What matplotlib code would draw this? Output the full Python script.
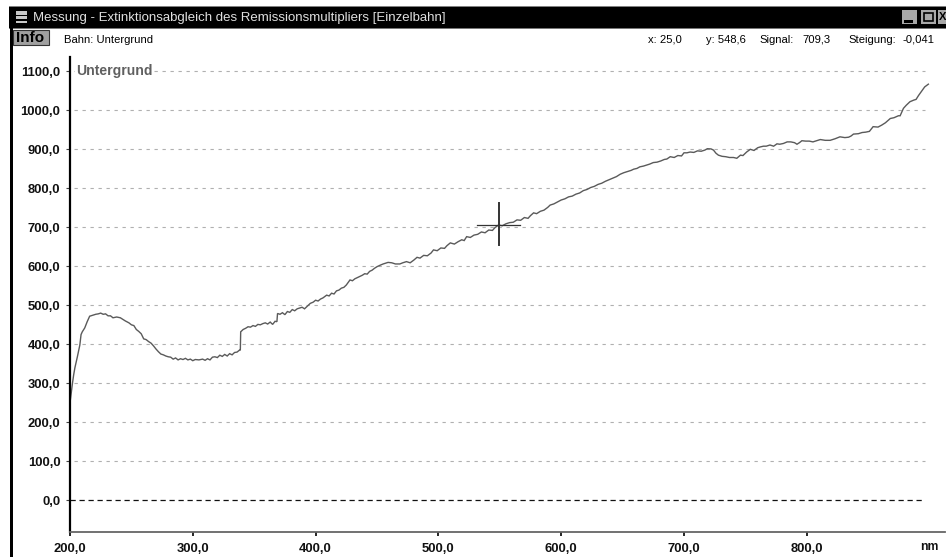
import matplotlib
matplotlib.use("Agg")
import matplotlib.pyplot as plt
from matplotlib.patches import Rectangle

plt.rcParams['font.family'] = ['Liberation Sans', 'DejaVu Sans']

W, H = 946, 557

wavelength = [
    200,201,202,203,204,206,208,209,210,212,
    214,216,217,219,221,223,225,227,229,231,
    233,235,238,241,243,245,248,250,252,254,
    256,258,260,262,264,266,268,270,272,274,
    276,278,280,282,284,286,288,290,292,294,
    296,298,300,302,305,308,310,312,314,316,
    318,320,322,324,326,328,330,332,334,336,
    338,338.7,339,341,343,345,347,349,351,353,
    355,357,359,361,363,365,367,368.5,369,371,
    373,375,377,379,381,383,385,387,389,391,
    393,395.7,398,400,402,404,406,409,411,413,
    415,417,419,421,423,425,428,430,432,434,
    436,438,440,442,444,446,448,450,452.7,455,
    459,462,465,468.6,471,474,477,480,482.6,485,
    488,491,494,496,499,502,505,507,509.7,513,
    516,519,521,523,526,529,532,535,538,541,
    544,546,549,552,555,558,561,564,567,570,
    573,575,577.5,580,583,586,589,591,594,597,
    600,603,606,609,612,615,618,621,624,627,
    630,633,636,639,642,645,648,651,654,657,
    659,661.7,664,667,670,672,675,678,681,684,
    686,688.8,692,695,698,700,702.4,705,708,711,
    714,717,719,722,724,726,728,731,734,737,
    740.3,743,746,748,751,754,757,760,762,764.7,
    767,770,773,775.7,778,781,784,787,790,792,
    794,796,799,802,805,808,811,815,819,823,
    827,831,834,836,838,842,845,848,851,854,
    858,861,864,868,871,874.6,876,878.7,881,884,
    887,889,891,893.7,896,899]
signal = [
    250,275,300,322,340,368,398,425,432,442,
    458,472,473,475,477,478,480,477,478,473,
    473,468,470,468,464,460,455,450,448,438,
    433,427,414,412,407,403,396,388,381,375,
    373,370,368,367,362,365,360,363,361,364,
    360,362,358,361,360,362,359,363,360,367,
    368,366,372,369,374,370,376,373,379,380,
    385,385,432,438,441,445,444,448,446,451,
    450,453,455,452,457,451,459,458,479,477,
    481,476,484,482,489,486,491,493,495,491,
    497,505,508,513,511,516,519,526,524,531,
    529,537,539,544,546,552,565,563,568,571,
    574,577,581,580,587,590,595,599,603,606,
    610,609,606,606,609,612,609,616,623,621,
    628,627,634,642,640,647,646,653,660,657,
    663,668,666,676,674,680,682,688,686,693,
    692,699,706,704,709,712,713,719,718,725,
    723,730,737,735,741,744,751,757,760,765,
    770,773,778,780,785,788,794,797,802,805,
    810,813,818,822,826,830,836,840,843,846,
    849,851,855,857,860,862,866,867,870,874,
    875,881,879,884,883,891,891,893,892,896,
    895,898,901.5,901,898,890,885,882,881,879,
    879,877,885,884,893,900,897,904,906,908,
    908,911,908,914,913,915,919,919,917,913,
    917,922,921,921,919,922,925,923,923,927,
    932,930,931,934,939,940,943,944,946,958,
    957,962,968,979,981,986,986,1005,1013,1022,
    1026,1028,1038,1050,1060,1067]

grid_levels = [100, 200, 300, 400, 500, 600, 700, 800, 900, 1000, 1100]
y_ticks = [0, 100, 200, 300, 400, 500, 600, 700, 800, 900, 1000, 1100]
y_labels = ['0,0','100,0','200,0','300,0','400,0','500,0','600,0','700,0','800,0','900,0','1000,0','1100,0']
x_ticks = [200, 300, 400, 500, 600, 700, 800]
x_labels = ['200,0','300,0','400,0','500,0','600,0','700,0','800,0']
cursor_nm = 549.0
cursor_signal = 707.0

fig = plt.figure(figsize=(W/100, H/100), dpi=100, facecolor='white')

# pixel overlay for the window frame
bg = fig.add_axes([0, 0, 1, 1], zorder=0)
bg.set_xlim(0, W); bg.set_ylim(H, 0); bg.axis('off')
bg.add_patch(Rectangle((9, 6), 937, 1.2, fc='#808080', ec='none'))
bg.add_patch(Rectangle((9, 7), 937, 21, fc='black', ec='none'))
bg.add_patch(Rectangle((9, 27.5), 937, 1, fc='#777777', ec='none'))
bg.add_patch(Rectangle((10, 7), 3, 550, fc='black', ec='none'))
# title icon
bg.add_patch(Rectangle((16, 11), 11, 12, fc='#c8c8c8', ec='none'))
bg.add_patch(Rectangle((16, 15), 11, 1.2, fc='black', ec='none'))
bg.add_patch(Rectangle((16, 19), 11, 1.5, fc='black', ec='none'))
bg.text(33, 18.2, 'Messung - Extinktionsabgleich des Remissionsmultipliers [Einzelbahn]',
        color='#e0e0e0', fontsize=9.5, va='center', ha='left')
# window buttons
for x0 in (902, 921):
    bg.add_patch(Rectangle((x0, 10), 15, 14, fc='#a8a8a8', ec='none'))
bg.add_patch(Rectangle((904, 20), 9, 2.5, fc='black', ec='none'))
bg.add_patch(Rectangle((924, 13), 9, 8, fc='none', ec='black', lw=1.2))
bg.add_patch(Rectangle((938, 10), 8, 14, fc='#a8a8a8', ec='none'))
bg.text(943, 17, 'X', color='black', fontsize=8, fontweight='bold', va='center', ha='center')
# info button
bg.add_patch(Rectangle((13, 30), 36, 15, fc='#a0a0a0', ec='none'))
bg.add_patch(Rectangle((13, 30), 36, 15, fc='none', ec='#333333', lw=0.8))
bg.text(30, 37.5, 'Info', color='black', fontsize=11, fontweight='bold', va='center', ha='center')
# status texts
status_y = 40
status_size = 8.1
bg.text(64, status_y, 'Bahn: Untergrund', fontsize=status_size, va='center', ha='left', color='black')
bg.text(648, status_y, 'x: 25,0', fontsize=status_size, va='center', ha='left', color='black')
bg.text(706, status_y, 'y: 548,6', fontsize=status_size, va='center', ha='left', color='black')
bg.text(759, status_y, 'Signal:', fontsize=status_size, va='center', ha='left', color='black')
bg.text(802, status_y, '709,3', fontsize=status_size, va='center', ha='left', color='black')
bg.text(848, status_y, 'Steigung:', fontsize=status_size, va='center', ha='left', color='black')
bg.text(902, status_y, '-0,041', fontsize=status_size, va='center', ha='left', color='black')

# chart axes: 200 nm at px 70, 122.8 px per 100 nm; 0 at px 500.3, 39 px per 100
left_px, right_px, top_px, bottom_px = 70, 945, 57, 532
ax = fig.add_axes([left_px/W, 1-bottom_px/H, (right_px-left_px)/W, (bottom_px-top_px)/H], zorder=1)
ax.patch.set_alpha(0)
ax.set_xlim(200, 200 + (right_px-left_px)/1.228)
ax.set_ylim((500.3-bottom_px)/0.39, (500.3-top_px)/0.39)

grid_end = 896.5
ax.hlines(grid_levels, 203, grid_end, colors='#b0b0b0', linestyles=(0, (3, 4.2)), linewidth=0.8)
ax.hlines([0], 200, grid_end, colors='#111111', linestyles=(0, (4.2, 3)), linewidth=0.9)
ax.plot(wavelength, signal, color='#5a5a5a', lw=1.0, solid_joinstyle='miter', clip_on=False)

# crosshair
ax.plot([cursor_nm-17.5, cursor_nm+17.5], [cursor_signal, cursor_signal], color='#333333', lw=0.9)
ax.plot([cursor_nm, cursor_nm], [cursor_signal-52, cursor_signal+55], color='#333333', lw=1.4)

for s in ('top', 'right'):
    ax.spines[s].set_visible(False)
ax.spines['left'].set_linewidth(1.6)
ax.spines['left'].set_color('black')
ax.spines['bottom'].set_linewidth(1.3)
ax.spines['bottom'].set_color('#666666')

ax.set_xticks(x_ticks, x_labels)
ax.set_yticks(y_ticks, y_labels)
ax.tick_params(axis='x', length=3, width=1.2, color='black', pad=5, direction='out', labelsize=9.4)
ax.tick_params(axis='y', length=3, width=0.8, color='#444444', pad=4, labelsize=9.4)
for t in ax.get_xticklabels() + ax.get_yticklabels():
    t.set_fontweight('bold')
    t.set_color('#111111')

bg.text(920, 547, 'nm', fontsize=8.8, fontweight='bold', ha='left', va='center', color='#111111')
ax.text(0.0069, 0.9695, 'Untergrund', transform=ax.transAxes, fontsize=10.1, fontweight='bold',
        ha='left', va='center', color='#606060', bbox=dict(fc='white', ec='none', pad=1), zorder=5)

fig.savefig('out.png', dpi=100, facecolor='white')
